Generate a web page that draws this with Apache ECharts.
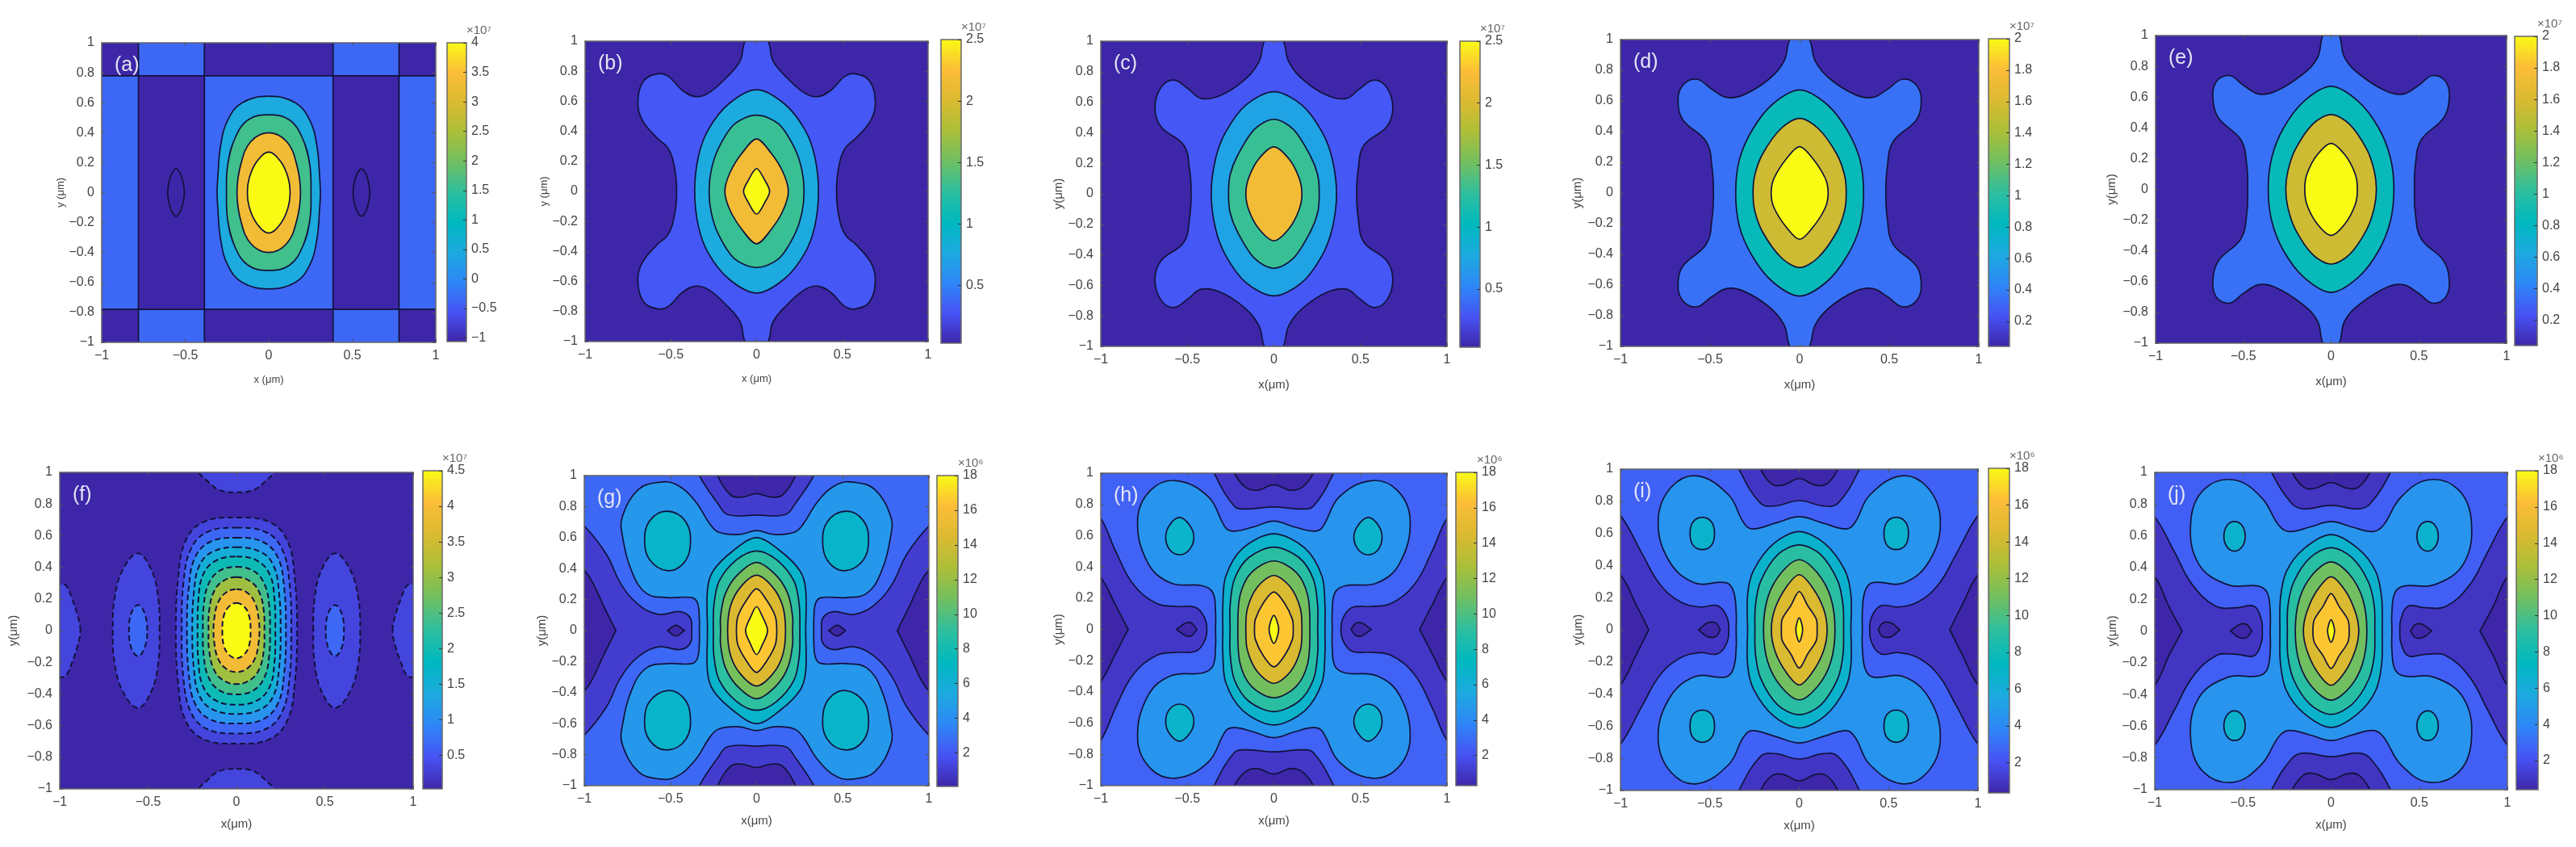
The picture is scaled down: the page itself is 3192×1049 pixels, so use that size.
<!DOCTYPE html>
<html>
<head>
<meta charset="utf-8">
<style>
  html, body { margin: 0; padding: 0; background: #fff; }
  #main { width: 3192px; height: 1049px; filter: blur(0.6px); }
</style>
<script src="https://cdn.jsdelivr.net/npm/echarts@6/dist/echarts.min.js"></script>
</head>
<body>
<div id="main"></div>
<script>
// ring = closed round the centre, side = pair on the x axis, cap = pair on the y axis, lobe = four copies
var xTicks = [-1, -0.5, 0, 0.5, 1];
var panelNames = ["(a)", "(b)", "(c)", "(d)", "(e)", "(f)", "(g)", "(h)", "(i)", "(j)"];
var barRanges = [[-1.06, 4], [0.03, 2.5], [0.03, 2.5], [0.04, 2], [0.04, 2], [0.03, 4.5], [0.07, 18], [0.3, 18], [0.35, 18], [0.4, 18]];
var barTicks = [
  [-1, -0.5, 0, 0.5, 1, 1.5, 2, 2.5, 3, 3.5, 4],
  [0.5, 1, 1.5, 2, 2.5],
  [0.5, 1, 1.5, 2, 2.5],
  [0.2, 0.4, 0.6, 0.8, 1, 1.2, 1.4, 1.6, 1.8, 2],
  [0.2, 0.4, 0.6, 0.8, 1, 1.2, 1.4, 1.6, 1.8, 2],
  [0.5, 1, 1.5, 2, 2.5, 3, 3.5, 4, 4.5],
  [2, 4, 6, 8, 10, 12, 14, 16, 18],
  [2, 4, 6, 8, 10, 12, 14, 16, 18],
  [2, 4, 6, 8, 10, 12, 14, 16, 18],
  [2, 4, 6, 8, 10, 12, 14, 16, 18]
];
var barExponents = ["×10⁷", "×10⁷", "×10⁷", "×10⁷", "×10⁷", "×10⁷", "×10⁶", "×10⁶", "×10⁶", "×10⁶"];
var baseLevels = [-0.35, 0.03, 0.03, 0.04, 0.04, 0.03, 2.6, 2.6, 2.6, 2.6];

var contoursA = [
  { kind: "rect", level: -1.06, pts: [-0.385, 0.78, 0.385, 1.1] },
  { kind: "rect", level: -1.06, pts: [-0.385, -1.1, 0.385, -0.78] },
  { kind: "rect", level: -1.06, pts: [-0.78, -0.78, -0.385, 0.78] },
  { kind: "rect", level: -1.06, pts: [0.385, -0.78, 0.78, 0.78] },
  { kind: "rect", level: -1.06, pts: [-1.1, 0.78, -0.78, 1.1] },
  { kind: "rect", level: -1.06, pts: [0.78, 0.78, 1.1, 1.1] },
  { kind: "rect", level: -1.06, pts: [-1.1, -1.1, -0.78, -0.78] },
  { kind: "rect", level: -1.06, pts: [0.78, -1.1, 1.1, -0.78] },
  { kind: "side", level: -1.06, pts: [[0.505, 0], [0.52, 0.1], [0.555, 0.158], [0.59, 0.1], [0.605, 0]] },
  { kind: "ring", level: 0.46, pts: [[0, 0.643], [0.159, 0.6], [0.245, 0.485], [0.288, 0.314], [0.305, 0.1], [0.309, 0]] },
  { kind: "ring", level: 1.62, pts: [[0, 0.52], [0.124, 0.485], [0.2, 0.368], [0.245, 0.19], [0.253, 0]] },
  { kind: "ring", level: 3.34, pts: [[0, 0.4], [0.107, 0.341], [0.167, 0.189], [0.19, 0]] },
  { kind: "ring", level: 4, pts: [[0, 0.27], [0.072, 0.206], [0.116, 0.1], [0.128, 0]] }
];
var contoursB = [
  { kind: "ring", level: 0.3, pts: [[0, 1.08], [0.067, 1], [0.096, 0.869], [0.18, 0.753], [0.281, 0.654], [0.356, 0.631], [0.432, 0.672], [0.516, 0.767], [0.575, 0.783], [0.659, 0.735], [0.692, 0.591], [0.667, 0.475], [0.583, 0.358], [0.516, 0.287], [0.479, 0.161], [0.466, 0]] },
  { kind: "ring", level: 0.77, tip: true, pts: [[0, 0.677], [0.163, 0.582], [0.281, 0.412], [0.339, 0.233], [0.361, 0]] },
  { kind: "ring", level: 1.31, tip: true, pts: [[0, 0.507], [0.129, 0.448], [0.222, 0.287], [0.264, 0.143], [0.277, 0]] },
  { kind: "ring", level: 2.18, tip: true, pts: [[0, 0.349], [0.087, 0.251], [0.155, 0.125], [0.185, 0]] },
  { kind: "ring", level: 2.5, tip: true, pts: [[0, 0.152], [0.049, 0.072], [0.076, 0]] }
];
var contoursC = [
  { kind: "ring", level: 0.3, pts: [[0, 1.08], [0.055, 1], [0.087, 0.863], [0.178, 0.739], [0.312, 0.643], [0.42, 0.625], [0.495, 0.687], [0.578, 0.745], [0.653, 0.695], [0.687, 0.563], [0.653, 0.44], [0.52, 0.317], [0.487, 0.158], [0.478, 0]] },
  { kind: "ring", level: 0.72, tip: true, pts: [[0, 0.669], [0.162, 0.581], [0.278, 0.405], [0.337, 0.229], [0.362, 0]] },
  { kind: "ring", level: 1.31, tip: true, pts: [[0, 0.488], [0.112, 0.423], [0.212, 0.246], [0.253, 0.123], [0.262, 0]] },
  { kind: "ring", level: 2.18, tip: true, pts: [[0, 0.308], [0.087, 0.229], [0.145, 0.106], [0.162, 0]] }
];
var contoursD = [
  { kind: "ring", level: 0.35, pts: [[0, 1.08], [0.055, 1], [0.087, 0.86], [0.167, 0.746], [0.312, 0.64], [0.408, 0.623], [0.489, 0.675], [0.577, 0.742], [0.658, 0.693], [0.678, 0.579], [0.65, 0.474], [0.521, 0.333], [0.489, 0.167], [0.481, 0]] },
  { kind: "ring", level: 0.86, tip: true, pts: [[0, 0.672], [0.151, 0.579], [0.264, 0.412], [0.336, 0.219], [0.357, 0]] },
  { kind: "ring", level: 1.55, tip: true, pts: [[0, 0.486], [0.103, 0.421], [0.207, 0.254], [0.251, 0.114], [0.26, 0]] },
  { kind: "ring", level: 2, tip: true, pts: [[0, 0.302], [0.071, 0.228], [0.143, 0.096], [0.159, 0]] }
];
var contoursE = [
  { kind: "ring", level: 0.35, pts: [[0, 1.08], [0.047, 1], [0.079, 0.853], [0.171, 0.74], [0.321, 0.635], [0.413, 0.62], [0.497, 0.675], [0.58, 0.74], [0.656, 0.696], [0.672, 0.573], [0.639, 0.46], [0.513, 0.32], [0.48, 0.154], [0.475, 0]] },
  { kind: "ring", level: 0.86, tip: true, pts: [[0, 0.67], [0.154, 0.573], [0.271, 0.399], [0.338, 0.206], [0.358, 0]] },
  { kind: "ring", level: 1.55, tip: true, pts: [[0, 0.486], [0.104, 0.425], [0.204, 0.259], [0.246, 0.119], [0.258, 0]] },
  { kind: "ring", level: 2, tip: true, pts: [[0, 0.299], [0.079, 0.224], [0.137, 0.101], [0.15, 0]] }
];
var contoursF = [
  { kind: "cap", level: 0.34, pts: [[0, 0.874], [0.1, 0.89], [0.175, 0.956], [0.215, 1], [0.25, 1.08], [0, 1.15]] },
  { kind: "side", level: 0.34, pts: [[0.883, 0], [0.9, 0.1], [0.93, 0.2], [0.965, 0.285], [1, 0.295], [1.1, 0.3], [1.1, 0]] },
  { kind: "side", level: 0.34, pts: [[0.435, 0], [0.442, 0.2], [0.48, 0.38], [0.558, 0.488], [0.645, 0.38], [0.69, 0.2], [0.7, 0]] },
  { kind: "side", level: 0.66, pts: [[0.505, 0], [0.52, 0.11], [0.557, 0.162], [0.595, 0.11], [0.608, 0]] },
  { kind: "ring", level: 0.34, pts: [[0, 0.714], [0.19, 0.684], [0.289, 0.565], [0.33, 0.33], [0.343, 0]] },
  { kind: "ring", level: 0.66, pts: [[0, 0.65], [0.17, 0.62], [0.26, 0.51], [0.3, 0.3], [0.31, 0]] },
  { kind: "ring", level: 1.1, pts: [[0, 0.587], [0.15, 0.56], [0.235, 0.46], [0.27, 0.27], [0.28, 0]] },
  { kind: "ring", level: 1.5, pts: [[0, 0.527], [0.14, 0.495], [0.21, 0.41], [0.24, 0.25], [0.25, 0]] },
  { kind: "ring", level: 1.95, pts: [[0, 0.468], [0.12, 0.44], [0.19, 0.35], [0.215, 0.2], [0.22, 0]] },
  { kind: "ring", level: 2.4, pts: [[0, 0.403], [0.1, 0.375], [0.16, 0.29], [0.185, 0.16], [0.19, 0]] },
  { kind: "ring", level: 3.07, pts: [[0, 0.338], [0.08, 0.31], [0.13, 0.24], [0.155, 0.12], [0.158, 0]] },
  { kind: "ring", level: 3.92, pts: [[0, 0.262], [0.06, 0.24], [0.105, 0.175], [0.125, 0.08], [0.13, 0]] },
  { kind: "ring", level: 4.5, pts: [[0, 0.175], [0.04, 0.155], [0.07, 0.1], [0.08, 0]] }
];
var contoursG = [
  { kind: "ring", level: 4.55, pts: [[0, 0.645], [0.1, 0.62], [0.218, 0.634], [0.268, 0.683], [0.36, 0.84], [0.469, 0.944], [0.57, 0.956], [0.687, 0.909], [0.779, 0.735], [0.779, 0.613], [0.72, 0.369], [0.637, 0.239], [0.519, 0.213], [0.377, 0.213], [0.343, 0.178], [0.332, 0.073], [0.332, 0]] },
  { kind: "side", level: 1, pts: [[0.377, 0], [0.385, 0.082], [0.444, 0.122], [0.57, 0.105], [0.687, 0.169], [0.787, 0.3], [0.871, 0.491], [1, 0.674], [1.1, 0.75], [1.1, 0]] },
  { kind: "side", level: 0.07, tip: true, pts: [[0.817, 0], [0.888, 0.16], [0.955, 0.317], [1, 0.387], [1.1, 0.45], [1.1, 0]] },
  { kind: "side", level: 0.07, tip: true, pts: [[0.419, 0], [0.469, 0.035], [0.516, 0]] },
  { kind: "cap", level: 1, pts: [[0, 0.745], [0.168, 0.749], [0.226, 0.822], [0.332, 1], [0.36, 1.1], [0, 1.1]] },
  { kind: "cap", level: 0.07, pts: [[0, 0.883], [0.084, 0.861], [0.151, 0.875], [0.226, 1], [0.25, 1.1], [0, 1.1]] },
  { kind: "lobe", level: 6.7, pts: [[0.52, 0.77], [0.62, 0.709], [0.65, 0.578], [0.62, 0.456], [0.52, 0.387], [0.427, 0.43], [0.385, 0.544], [0.41, 0.7]] },
  { kind: "ring", level: 6.7, tip: true, pts: [[0, 0.6], [0.134, 0.517], [0.251, 0.387], [0.285, 0.265], [0.285, 0]] },
  { kind: "ring", level: 9, tip: true, pts: [[0, 0.514], [0.117, 0.456], [0.218, 0.317], [0.248, 0.16], [0.251, 0]] },
  { kind: "ring", level: 11, tip: true, pts: [[0, 0.439], [0.117, 0.352], [0.184, 0.23], [0.209, 0.09], [0.209, 0]] },
  { kind: "ring", level: 14.4, tip: true, pts: [[0, 0.357], [0.092, 0.282], [0.151, 0.16], [0.168, 0]] },
  { kind: "ring", level: 16.5, tip: true, pts: [[0, 0.27], [0.059, 0.195], [0.109, 0.09], [0.117, 0]] },
  { kind: "ring", level: 18, tip: true, pts: [[0, 0.155], [0.034, 0.09], [0.064, 0]] }
];
var contoursH = [
  { kind: "ring", level: 4.55, pts: [[0, 0.693], [0.12, 0.655], [0.228, 0.629], [0.278, 0.65], [0.378, 0.848], [0.562, 0.952], [0.712, 0.891], [0.787, 0.702], [0.728, 0.426], [0.595, 0.297], [0.412, 0.279], [0.353, 0.236], [0.337, 0.116], [0.337, 0]] },
  { kind: "side", level: 1, pts: [[0.387, 0], [0.403, 0.081], [0.453, 0.141], [0.562, 0.147], [0.678, 0.167], [0.812, 0.288], [0.912, 0.495], [1.005, 0.719], [1.1, 0.8], [1.1, 0]] },
  { kind: "side", level: 0.3, tip: true, pts: [[0.842, 0], [0.912, 0.15], [1.005, 0.34], [1.1, 0.42], [1.1, 0]] },
  { kind: "side", level: 0.3, tip: true, pts: [[0.445, 0], [0.475, 0.04], [0.51, 0.04], [0.562, 0]] },
  { kind: "cap", level: 1, pts: [[0, 0.784], [0.162, 0.771], [0.228, 0.788], [0.345, 1], [0.37, 1.1], [0, 1.1]] },
  { kind: "cap", level: 0.3, pts: [[0, 0.926], [0.095, 0.891], [0.162, 0.909], [0.228, 1], [0.25, 1.1], [0, 1.1]] },
  { kind: "lobe", level: 6.7, pts: [[0.545, 0.716], [0.603, 0.667], [0.625, 0.59], [0.603, 0.512], [0.545, 0.478], [0.487, 0.512], [0.462, 0.59], [0.487, 0.667]] },
  { kind: "ring", level: 6.7, tip: true, pts: [[0, 0.612], [0.178, 0.521], [0.278, 0.34], [0.295, 0.15], [0.295, 0]] },
  { kind: "ring", level: 9, tip: true, pts: [[0, 0.526], [0.145, 0.46], [0.228, 0.322], [0.253, 0.15], [0.253, 0]] },
  { kind: "ring", level: 11, tip: true, pts: [[0, 0.438], [0.128, 0.366], [0.195, 0.219], [0.208, 0]] },
  { kind: "ring", level: 14.4, tip: true, pts: [[0, 0.345], [0.095, 0.271], [0.153, 0.133], [0.162, 0]] },
  { kind: "ring", level: 16.5, tip: true, pts: [[0, 0.24], [0.062, 0.167], [0.107, 0.064], [0.112, 0]] },
  { kind: "ring", level: 18, tip: true, pts: [[0, 0.09], [0.028, 0]] }
];
var contoursI = [
  { kind: "ring", level: 4.55, pts: [[0, 0.704], [0.13, 0.665], [0.265, 0.628], [0.313, 0.67], [0.394, 0.838], [0.571, 0.958], [0.716, 0.888], [0.789, 0.687], [0.732, 0.436], [0.587, 0.293], [0.41, 0.293], [0.369, 0.243], [0.353, 0.117], [0.353, 0]] },
  { kind: "side", level: 1, pts: [[0.394, 0], [0.405, 0.08], [0.458, 0.15], [0.555, 0.142], [0.668, 0.176], [0.781, 0.285], [0.877, 0.469], [1, 0.712], [1.1, 0.8], [1.1, 0]] },
  { kind: "side", level: 0.35, tip: true, pts: [[0.842, 0], [0.91, 0.151], [1, 0.343], [1.1, 0.42], [1.1, 0]] },
  { kind: "side", level: 0.35, tip: true, pts: [[0.442, 0], [0.466, 0.042], [0.515, 0.042], [0.563, 0]] },
  { kind: "cap", level: 1, pts: [[0, 0.804], [0.135, 0.771], [0.216, 0.787], [0.337, 1], [0.36, 1.1], [0, 1.1]] },
  { kind: "cap", level: 0.35, pts: [[0, 0.941], [0.09, 0.9], [0.15, 0.905], [0.216, 1], [0.24, 1.1], [0, 1.1]] },
  { kind: "lobe", level: 6.7, pts: [[0.542, 0.7], [0.595, 0.67], [0.611, 0.6], [0.595, 0.528], [0.542, 0.499], [0.49, 0.528], [0.474, 0.6], [0.49, 0.67]] },
  { kind: "ring", level: 6.7, tip: true, pts: [[0, 0.611], [0.144, 0.536], [0.256, 0.369], [0.289, 0.218], [0.289, 0]] },
  { kind: "ring", level: 9, tip: true, pts: [[0, 0.528], [0.119, 0.469], [0.216, 0.302], [0.245, 0.151], [0.248, 0]] },
  { kind: "ring", level: 11, tip: true, pts: [[0, 0.436], [0.103, 0.352], [0.176, 0.201], [0.2, 0]] },
  { kind: "ring", level: 14.4, tip: true, pts: [[0, 0.343], [0.071, 0.268], [0.135, 0.134], [0.156, 0]] },
  { kind: "ring", level: 16.5, tip: true, pts: [[0, 0.238], [0.047, 0.151], [0.095, 0.067], [0.1, 0]] },
  { kind: "ring", level: 18, tip: true, pts: [[0, 0.075], [0.019, 0]] }
];
var contoursJ = [
  { kind: "ring", level: 4.55, pts: [[0, 0.69], [0.12, 0.655], [0.237, 0.627], [0.295, 0.664], [0.395, 0.842], [0.553, 0.953], [0.72, 0.893], [0.795, 0.698], [0.753, 0.427], [0.587, 0.292], [0.412, 0.283], [0.362, 0.241], [0.345, 0.122], [0.345, 0]] },
  { kind: "side", level: 1, pts: [[0.39, 0], [0.395, 0.071], [0.437, 0.156], [0.537, 0.147], [0.653, 0.156], [0.787, 0.292], [0.887, 0.495], [1, 0.719], [1.1, 0.8], [1.1, 0]] },
  { kind: "side", level: 0.4, tip: true, pts: [[0.845, 0], [0.92, 0.156], [1, 0.342], [1.1, 0.42], [1.1, 0]] },
  { kind: "side", level: 0.4, tip: true, pts: [[0.45, 0], [0.478, 0.041], [0.52, 0.041], [0.57, 0]] },
  { kind: "cap", level: 1, pts: [[0, 0.792], [0.153, 0.769], [0.22, 0.8], [0.337, 1], [0.36, 1.1], [0, 1.1]] },
  { kind: "cap", level: 0.4, pts: [[0, 0.936], [0.09, 0.9], [0.153, 0.905], [0.22, 1], [0.24, 1.1], [0, 1.1]] },
  { kind: "lobe", level: 6.7, pts: [[0.548, 0.69], [0.59, 0.665], [0.608, 0.597], [0.59, 0.53], [0.548, 0.503], [0.505, 0.53], [0.487, 0.597], [0.505, 0.665]] },
  { kind: "ring", level: 6.7, tip: true, pts: [[0, 0.608], [0.153, 0.52], [0.253, 0.376], [0.287, 0.207], [0.29, 0]] },
  { kind: "ring", level: 9, tip: true, pts: [[0, 0.525], [0.12, 0.461], [0.212, 0.308], [0.245, 0.156], [0.248, 0]] },
  { kind: "ring", level: 11, tip: true, pts: [[0, 0.436], [0.103, 0.359], [0.178, 0.207], [0.203, 0]] },
  { kind: "ring", level: 14.4, tip: true, pts: [[0, 0.342], [0.078, 0.258], [0.137, 0.122], [0.157, 0]] },
  { kind: "ring", level: 16.5, tip: true, pts: [[0, 0.236], [0.045, 0.156], [0.095, 0.071], [0.103, 0]] },
  { kind: "ring", level: 18, tip: true, pts: [[0, 0.071], [0.02, 0]] }
];
var panelContours = [contoursA, contoursB, contoursC, contoursD, contoursE, contoursF, contoursG, contoursH, contoursI, contoursJ];

// page layout, [left, top, right, bottom] in px
var plotBoxes = [
  [126, 53, 540, 424], [725, 51, 1150, 423], [1364, 51, 1793, 429], [2008, 49, 2452, 429], [2671, 44, 3106, 425],
  [74, 585, 512, 977], [724, 589, 1151, 973], [1364, 586, 1793, 973], [2008, 581, 2451, 979], [2670, 585, 3107, 978]
];
var barBoxes = [
  [554, 53, 578, 423], [1166, 49, 1191, 425], [1809, 51, 1834, 430], [2464, 48, 2490, 429], [3116, 45, 3144, 428],
  [524, 583, 548, 977], [1161, 589, 1187, 974], [1804, 585, 1830, 973], [2464, 580, 2490, 982], [3118, 583, 3145, 978]
];
var yNameGaps = [42, 36, 40, 46, 47, 50, 40, 42, 45, 42];

var parulaStops = ["#3e26a8", "#4752f4", "#2e87f7", "#1caadf", "#00b8bf", "#2dbf9f", "#70bf61", "#abbf38", "#dbba31", "#fcbd38", "#f9fb15"];
var lineColor = "#12123a";
var textColor = "#444";
var fontName = "Liberation Sans";

function levelColor(level, range) {
  return echarts.color.lerp((level - range[0]) / (range[1] - range[0]), parulaStops);
}

function tickText(v) {
  return String(v).replace("-", "\u2212");
}

function flip(pts, sx, sy) {
  return pts.map(function (p) { return [p[0] * sx, p[1] * sy]; });
}

// one outline of the list becomes its mirrored closed loop(s)
function expand(c) {
  var p = c.pts;
  var back = p.slice().reverse();
  if (c.kind === "rect") {
    return [[[p[0], p[1]], [p[2], p[1]], [p[2], p[3]], [p[0], p[3]]]];
  }
  if (c.kind === "lobe") {
    return [flip(p, 1, 1), flip(p, -1, 1), flip(p, 1, -1), flip(p, -1, -1)];
  }
  if (c.kind === "side") {
    var halfS = p.concat(c.tip ? flip(back, 1, -1) : flip(back, 1, -1).slice(1, -1));
    return [halfS, flip(halfS, -1, 1)];
  }
  if (c.kind === "cap") {
    var halfC = p.concat(flip(back, -1, 1).slice(1, -1));
    return [halfC, flip(halfC, 1, -1)];
  }
  var right = p.concat(flip(back, 1, -1).slice(1));
  var left = flip(right.slice().reverse(), -1, 1).slice(1, -1);
  return [right.concat(left)];
}

var grids = [], xAxes = [], yAxes = [], series = [], titles = [];

function plotAxis(gridIndex, position, labelled, name, gap, size) {
  var isX = position === "bottom" || position === "top";
  return {
    type: "value", gridIndex: gridIndex, position: position, min: -1, max: 1, interval: isX ? 0.5 : 0.2, z: 5,
    name: labelled ? name : "", nameLocation: "middle", nameGap: gap,
    nameTextStyle: { color: textColor, fontFamily: fontName, fontSize: size },
    axisLine: { show: true, onZero: false, lineStyle: { color: "#666", width: 1.5 } },
    axisTick: { show: true, inside: true, length: 4, lineStyle: { color: "#555" } },
    axisLabel: { show: labelled, margin: 9, color: textColor, fontFamily: fontName, fontSize: 16, formatter: tickText, showMinLabel: true, showMaxLabel: true },
    splitLine: { show: false }
  };
}

panelContours.forEach(function (contours, i) {
  var box = plotBoxes[i], bar = barBoxes[i], range = barRanges[i];
  var small = i < 2;
  var gridPlot = grids.length;
  grids.push({
    left: box[0], top: box[1], width: box[2] - box[0], height: box[3] - box[1], show: true, borderWidth: 0,
    backgroundColor: levelColor(baseLevels[i], range)
  });
  var xName = small ? "x (μm)" : "x(μm)";
  var yName = small ? "y (μm)" : "y(μm)";
  var xIndex = xAxes.length, yIndex = yAxes.length;
  var xGap = i < 5 ? 40 : 36;
  xAxes.push(plotAxis(gridPlot, "bottom", true, xName, xGap, small ? 13 : 15), plotAxis(gridPlot, "top", false));
  yAxes.push(plotAxis(gridPlot, "left", true, yName, yNameGaps[i], small ? 13 : 15), plotAxis(gridPlot, "right", false));

  var polys = [];
  contours.forEach(function (c) {
    expand(c).forEach(function (points) {
      polys.push({ points: points, smooth: c.kind === "rect" ? 0 : (c.tip && c.kind === "ring" ? 0.32 : 0.4), color: levelColor(c.level, range) });
    });
  });
  series.push({
    type: "custom", xAxisIndex: xIndex, yAxisIndex: yIndex, clip: true, silent: true, z: 2,
    data: polys.map(function (p, k) { return [k]; }),
    renderItem: function (params, api) {
      var poly = polys[params.dataIndex];
      return {
        type: "polygon",
        shape: { points: poly.points.map(function (p) { return api.coord(p); }), smooth: poly.smooth },
        style: { fill: poly.color, stroke: lineColor, lineWidth: i === 5 ? 2 : 1.7, lineDash: i === 5 ? [7, 4] : null }
      };
    }
  });

  titles.push({
    text: panelNames[i], left: box[0] + 11, top: box[1] + 11,
    textStyle: { color: "#e4e4f4", fontFamily: fontName, fontWeight: "normal", fontSize: 25 }
  });

  // colorbar
  var gridBar = grids.length;
  grids.push({ left: bar[0], top: bar[1], width: bar[2] - bar[0], height: bar[3] - bar[1] });
  var xBar = xAxes.length, yBar = yAxes.length;
  xAxes.push({ type: "value", gridIndex: gridBar, min: 0, max: 1, show: false });
  yAxes.push({
    type: "value", gridIndex: gridBar, position: "right", min: range[0], max: range[1], z: 5,
    name: barExponents[i], nameLocation: "end", nameGap: 8,
    nameTextStyle: { color: "#666", fontFamily: fontName, fontSize: 15, align: "left" },
    axisLine: { show: false, onZero: false },
    axisTick: { show: true, inside: true, length: 4, customValues: barTicks[i], lineStyle: { color: "#333" } },
    axisLabel: { show: true, margin: 6, color: textColor, fontFamily: fontName, fontSize: 16, customValues: barTicks[i], formatter: tickText },
    splitLine: { show: false }
  });
  series.push({
    type: "custom", xAxisIndex: xBar, yAxisIndex: yBar, silent: true, z: 2,
    data: [[0, range[1], 1, range[0]]],
    renderItem: function (params, api) {
      var a = api.coord([api.value(0), api.value(1)]);
      var b = api.coord([api.value(2), api.value(3)]);
      return {
        type: "rect",
        shape: { x: a[0], y: a[1], width: b[0] - a[0], height: b[1] - a[1] },
        style: {
          fill: new echarts.graphic.LinearGradient(0, 1, 0, 0, parulaStops.map(function (c, k) {
            return { offset: k / (parulaStops.length - 1), color: c };
          })),
          stroke: "#6a6a6a", lineWidth: 1.5
        }
      };
    }
  });
});

var chart = echarts.init(document.getElementById("main"));
chart.setOption({
  backgroundColor: "#fff",
  animation: false,
  title: titles,
  grid: grids,
  xAxis: xAxes,
  yAxis: yAxes,
  series: series
});

window.addEventListener("resize", function () {
  chart.resize();
});
</script>
</body>
</html>
